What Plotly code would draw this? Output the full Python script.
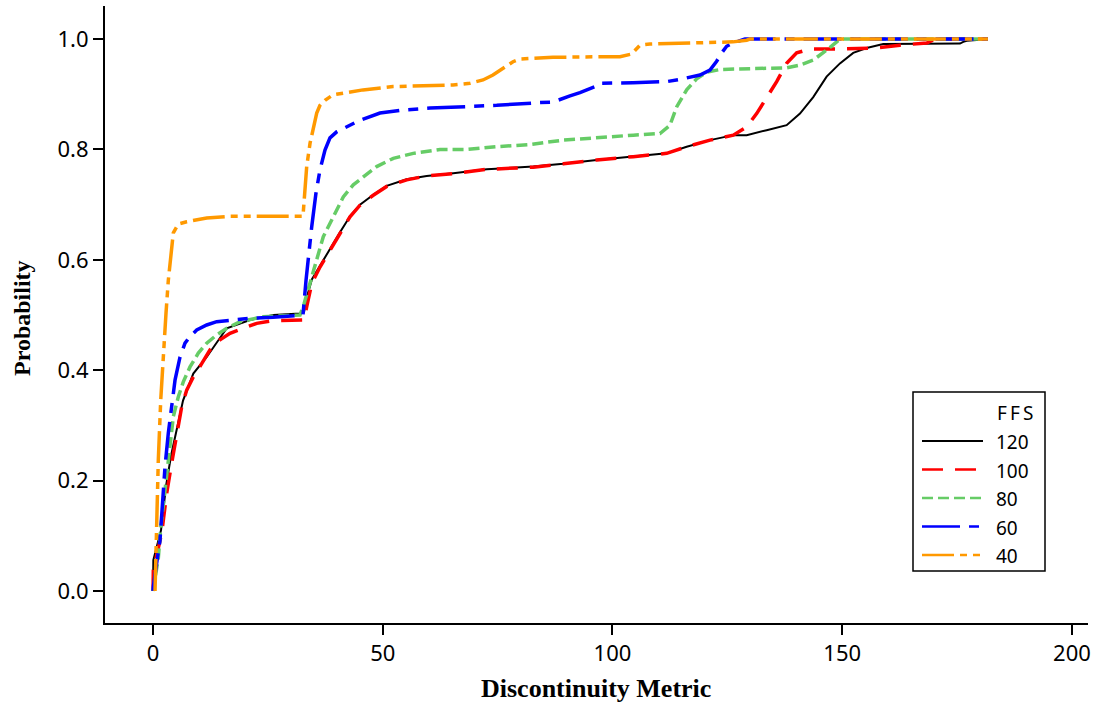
import plotly.graph_objects as go

# ---- data ----
x120 = [0, 0.07, 1.74, 2.83, 3.92, 5.16, 6.53, 8.77, 11.69, 16.04, 21.11, 26.18, 31.99, 32.86,
        33.73, 34.60, 36.34, 38.52, 40.70, 42.87, 45.05, 47.94, 50.86, 55.21, 59.56, 65.35,
        72.62, 82.76, 89.29, 96.56, 104.53, 111.80, 116.15, 121.22, 126.29, 129.21, 133.56,
        137.91, 140.81, 143.70, 146.61, 149.51, 152.40, 155.32, 158.93, 169.81, 175.63, 176.35,
        177.09, 179.98, 181.72]
y120 = [0, 0.056, 0.110, 0.190, 0.245, 0.292, 0.345, 0.394, 0.424, 0.476, 0.491, 0.500, 0.503, 0.505,
        0.540, 0.565, 0.590, 0.620, 0.650, 0.679, 0.700, 0.718, 0.734, 0.746, 0.752, 0.757,
        0.764, 0.769, 0.774, 0.781, 0.787, 0.793, 0.805, 0.817, 0.826, 0.826, 0.835,
        0.844, 0.865, 0.895, 0.932, 0.956, 0.975, 0.984, 0.991, 0.992, 0.992, 0.995,
        0.997, 0.999, 1.0]

x100 = [0, 0.07, 1.89, 2.98, 4.07, 5.16, 6.25, 7.33, 8.77, 10.60, 12.40, 14.58, 16.76, 19.65, 22.57,
        26.18, 31.99, 32.86, 33.45, 34.54, 36.34, 38.52, 40.70, 42.87, 45.05, 47.94, 50.86, 55.21,
        59.56, 65.35, 72.62, 82.76, 89.29, 96.56, 104.53, 111.80, 116.15, 121.22, 126.29, 129.21,
        131.38, 133.56, 135.74, 137.91, 140.09, 142.99, 149.51, 157.49, 162.57, 168.38, 169.75,
        171.27, 181.72]
y100 = [0, 0.038, 0.105, 0.177, 0.232, 0.286, 0.334, 0.364, 0.388, 0.412, 0.437, 0.455, 0.467, 0.476, 0.485,
        0.490, 0.490, 0.491, 0.515, 0.557, 0.587, 0.618, 0.648, 0.678, 0.699, 0.717, 0.733, 0.745,
        0.752, 0.756, 0.764, 0.768, 0.774, 0.781, 0.787, 0.793, 0.805, 0.817, 0.826, 0.841,
        0.865, 0.895, 0.923, 0.956, 0.975, 0.982, 0.982, 0.984, 0.989, 0.993, 0.998,
        1.0, 1.0]

x80 = [0, 1.15, 1.68, 2.24, 2.98, 3.70, 4.42, 5.51, 6.59, 8.05, 9.86, 11.69, 13.86, 16.04, 18.93,
       23.94, 27.64, 31.99, 32.86, 34.17, 35.63, 37.06, 39.24, 41.41, 43.59, 45.77, 48.68, 52.30,
       56.65, 62.46, 68.27, 74.80, 82.05, 89.29, 96.56, 104.53, 110.34, 112.51, 113.97, 116.15,
       118.32, 120.50, 123.40, 129.92, 137.91, 140.81, 143.70, 146.61, 148.79, 149.51, 181.72]
y80 = [0, 0.059, 0.114, 0.153, 0.214, 0.268, 0.316, 0.352, 0.379, 0.406, 0.431, 0.449, 0.464, 0.476, 0.488,
       0.497, 0.498, 0.500, 0.520, 0.558, 0.606, 0.642, 0.678, 0.714, 0.736, 0.751, 0.769, 0.784,
       0.793, 0.800, 0.800, 0.805, 0.809, 0.817, 0.822, 0.826, 0.829, 0.844, 0.877, 0.908,
       0.928, 0.940, 0.945, 0.947, 0.948, 0.953, 0.962, 0.980, 0.995, 1.0, 1.0]

x60 = [0, 0.07, 1.52, 2.02, 2.61, 3.33, 4.07, 4.79, 5.88, 6.96, 8.05, 9.51, 11.69, 13.86, 17.41, 21.11,
       26.12, 31.27, 32.64, 33.30, 33.80, 34.54, 35.47, 36.34, 37.43, 38.52, 39.98, 42.15, 45.05,
       49.40, 53.75, 60.28, 66.09, 74.80, 84.22, 87.05, 90.75, 92.93, 96.56, 97.28, 104.46, 111.80,
       114.69, 119.04, 121.22, 122.68, 123.77, 124.85, 126.22, 127.75, 128.84, 181.72]
y60 = [0, 0.008, 0.092, 0.165, 0.225, 0.286, 0.340, 0.382, 0.424, 0.449, 0.461, 0.473, 0.482, 0.488, 0.491, 0.494,
       0.496, 0.498, 0.500, 0.563, 0.606, 0.660, 0.721, 0.763, 0.799, 0.821, 0.832, 0.841, 0.853,
       0.866, 0.871, 0.875, 0.877, 0.880, 0.885, 0.886, 0.897, 0.903, 0.915, 0.920, 0.921, 0.923,
       0.927, 0.935, 0.944, 0.960, 0.975, 0.987, 0.993, 0.998, 1.0, 1.0]

x40 = [0.44, 0.81, 1.15, 1.68, 2.24, 2.83, 3.33, 3.85, 4.42, 5.51, 7.33, 11.69, 16.76, 32.64, 33.08,
       33.45, 34.17, 34.89, 35.63, 36.34, 37.43, 39.17, 42.15, 45.70, 52.23, 60.28, 65.29, 68.99,
       71.82, 73.99, 76.17, 78.35, 79.87, 87.05, 97.28, 101.63, 104.18, 105.98, 108.16, 121.22,
       126.22, 129.21, 129.92, 181.72]
y40 = [0, 0.129, 0.237, 0.346, 0.437, 0.504, 0.563, 0.603, 0.649, 0.665, 0.669, 0.676, 0.679, 0.679, 0.732,
       0.769, 0.811, 0.841, 0.866, 0.880, 0.889, 0.899, 0.903, 0.908, 0.914, 0.916, 0.917, 0.920,
       0.926, 0.935, 0.947, 0.959, 0.964, 0.967, 0.968, 0.968, 0.973, 0.989, 0.991, 0.994,
       0.995, 0.998, 1.0, 1.0]

series_names = ["120", "100", "80", "60", "40"]
legend_title = "F\u2009F\u2009S"
x_title = "Discontinuity Metric"
y_title = "Probability"
x_ticks = [0, 50, 100, 150, 200]
y_ticks = [0.0, 0.2, 0.4, 0.6, 0.8, 1.0]

xs_all = [x120, x100, x80, x60, x40]
ys_all = [y120, y100, y80, y60, y40]
colors = ["#000000", "#FF0000", "#66CC66", "#0000FF", "#FF9900"]
dashes = ["solid", "21px,12px", "11px,5px", "38px,9px,10px,9px", "32px,6px,7px,6px,7px,6px"]
widths = [2, 3.5, 3.5, 3.5, 3.5]

W, H = 1096, 704
L, R, T, B = 105, 8, 6, 81
PW, PH = W - L - R, H - T - B


def px(xp):
    return (xp - L) / PW


def py(yp):
    return (H - B - yp) / PH


fig = go.Figure()
for name, xs, ys, c, d, w in zip(series_names, xs_all, ys_all, colors, dashes, widths):
    fig.add_trace(go.Scatter(x=xs, y=ys, mode="lines", name=name, showlegend=False,
                             line=dict(color=c, dash=d, width=w)))

# custom legend (box, title, sample lines, labels)
shapes = [dict(type="rect", xref="paper", yref="paper", x0=px(913), x1=px(1045),
               y0=py(571), y1=py(392), line=dict(color="black", width=1.5),
               fillcolor="white", layer="above")]
annotations = [dict(text=legend_title, xref="paper", yref="paper", x=px(995), y=py(413),
                    xanchor="left", yanchor="middle", showarrow=False,
                    font=dict(family="Noto Sans", size=19, color="black"))]
item_y = [441, 469.5, 498, 526.5, 555]
for name, c, d, w, yy in zip(series_names, colors, dashes, widths, item_y):
    shapes.append(dict(type="line", xref="paper", yref="paper", x0=px(922), x1=px(983),
                       y0=py(yy), y1=py(yy), line=dict(color=c, dash=d, width=min(w, 2.5)),
                       layer="above"))
    annotations.append(dict(text=name, xref="paper", yref="paper", x=px(994), y=py(yy + 1),
                            xanchor="left", yanchor="middle", showarrow=False,
                            font=dict(family="Noto Sans", size=19, color="black")))

# axis titles
annotations.append(dict(text="<b>" + x_title + "</b>", xref="paper", yref="paper",
                        x=px(596), y=py(688), xanchor="center", yanchor="middle",
                        showarrow=False,
                        font=dict(family="Liberation Serif", size=26, color="black")))
annotations.append(dict(text="<b>" + y_title + "</b>", xref="paper", yref="paper",
                        x=px(22), y=py(318), xanchor="center", yanchor="middle",
                        showarrow=False, textangle=-90,
                        font=dict(family="Liberation Serif", size=24, color="black")))

tick_font = dict(family="Noto Sans", size=22, color="black")

fig.update_layout(
    width=W, height=H,
    margin=dict(l=L, r=R, t=T, b=B),
    plot_bgcolor="white", paper_bgcolor="white",
    showlegend=False,
    shapes=shapes, annotations=annotations,
    xaxis=dict(
        range=[-10.45, 203.5], tickvals=x_ticks, ticks="outside", ticklen=10, tickwidth=2,
        tickcolor="black", showline=True, linecolor="black", linewidth=2, showgrid=False,
        zeroline=False, tickfont=tick_font, automargin=False,
    ),
    yaxis=dict(
        range=[-0.058, 1.06], tickvals=y_ticks, tickformat=".1f", ticks="outside", ticklen=10,
        tickwidth=2, tickcolor="black", showline=True, linecolor="black", linewidth=2,
        showgrid=False, zeroline=False, tickfont=tick_font, automargin=False,
    ),
)

fig.write_html("out.html", config={"displayModeBar": False},
               post_script="document.body.style.margin='0';document.body.style.overflow='hidden';")
